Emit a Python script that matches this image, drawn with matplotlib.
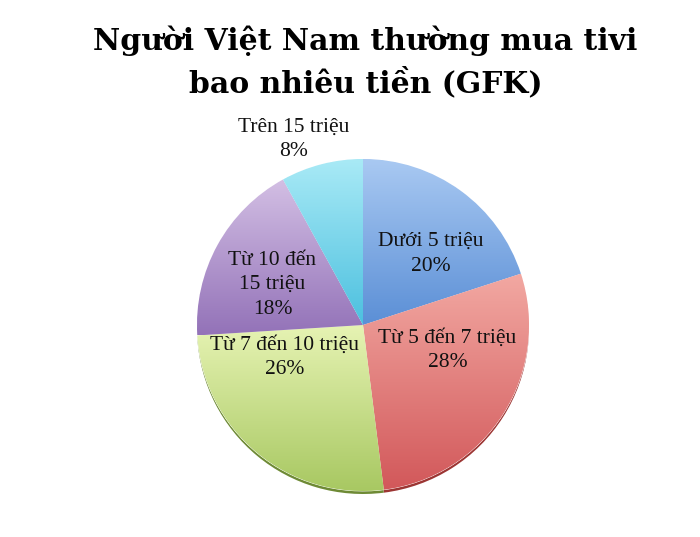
import numpy as np
import matplotlib.pyplot as plt
from matplotlib.colors import LinearSegmentedColormap

# du lieu
labels = ["Dưới 5 triệu", "Từ 5 đến 7 triệu", "Từ 7 đến 10 triệu",
          "Từ 10 đến\n15 triệu", "Trên 15 triệu"]
values = [20, 28, 26, 18, 8]
light = ["#a9c9f2", "#f2a8a2", "#e6f3b3", "#d3bfe4", "#a9eaf6"]
dark = ["#5b8fd6", "#d2585a", "#a8c862", "#9372b8", "#4cc0df"]
rim = ["#3f6eae", "#9c3533", "#6e8a35", "#65478c", "#2c8fab"]
# vi tri nhan (goc, ban kinh tuong doi)
lab_ang = [46.5, -16.9, -157.4, 156, 110.5]
lab_r = [0.59, 0.532, 0.512, 0.597, 1.194]

title = "Người Việt Nam thường mua tivi\nbao nhiêu tiền (GFK)"

fig = plt.figure(figsize=(7, 5.37), dpi=100)
ax = fig.add_axes([0, 0, 1, 1])
ax.set_xlim(0, 700)
ax.set_ylim(0, 537)
ax.axis("off")

cx, cy, R = 363, 212, 166

# vien toi phia duoi
ax.pie(values, colors=rim, startangle=90, counterclock=False,
       center=(cx, cy - 3), radius=R, frame=True,
       wedgeprops=dict(linewidth=0))

wedges, _ = ax.pie(values, colors=light, startangle=90, counterclock=False,
                   center=(cx, cy), radius=R, frame=True,
                   wedgeprops=dict(linewidth=0.6, edgecolor="white"))

# to mau chuyen sac cho tung mieng
for w, c1, c2 in zip(wedges, light, dark):
    ext = w.get_path().get_extents()
    cmap = LinearSegmentedColormap.from_list("g", [c2, c1])
    grad = np.linspace(0, 1, 256).reshape(-1, 1)
    im = ax.imshow(grad, cmap=cmap, origin="lower", aspect="auto",
                   extent=[ext.x0, ext.x1, ext.y0, ext.y1], zorder=1.5)
    im.set_clip_path(w)

ax.set_xlim(0, 700)
ax.set_ylim(0, 537)
ax.set_aspect("auto")

for lab, v, a, r in zip(labels, values, lab_ang, lab_r):
    x = cx + r * R * np.cos(np.radians(a))
    y = cy + r * R * np.sin(np.radians(a))
    ax.text(x, y, f"{lab}\n{v}%", ha="center", va="center",
            fontsize=15.5, family="Liberation Serif", color="#111111",
            linespacing=1.4, zorder=3)

fig.text(0.522, 0.952, title, ha="center", va="top", fontsize=21.5,
         family="DejaVu Serif", fontweight="bold", linespacing=1.42)

fig.savefig("out.png", dpi=100)
